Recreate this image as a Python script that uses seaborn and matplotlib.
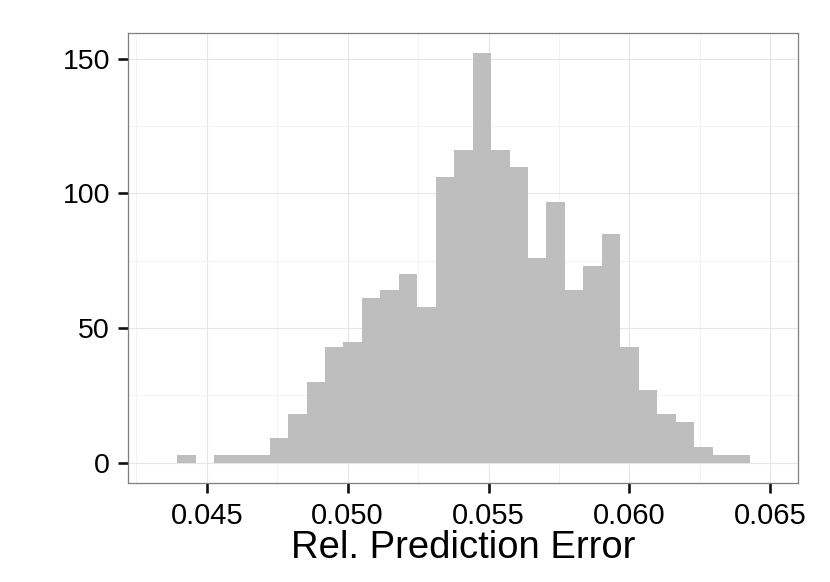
import numpy as np
import pandas as pd
import matplotlib
matplotlib.use("Agg")
import matplotlib.pyplot as plt
import seaborn as sns

# Histogram counts per bin
counts = [3, 0, 3, 3, 3, 9, 18, 30, 43, 45, 61, 64, 70, 58, 106, 116, 152,
          116, 110, 76, 97, 64, 73, 85, 43, 27, 18, 15, 6, 3, 3]
bin_start = 0.043957
bin_width = 0.000655
x_ticks = [0.045, 0.050, 0.055, 0.060, 0.065]
x_tick_labels = ["0.045", "0.050", "0.055", "0.060", "0.065"]
y_ticks = [0, 50, 100, 150]
x_label = "Rel. Prediction Error"

edges = bin_start + bin_width * np.arange(len(counts) + 1)
centers = (edges[:-1] + edges[1:]) / 2
df = pd.DataFrame({"err": centers, "n": counts})

sns.set_theme(style="white")
plt.rcParams["font.family"] = ["Liberation Sans", "DejaVu Sans"]

fig = plt.figure(figsize=(8.3, 5.82), dpi=100)
ax = fig.add_axes([128 / 830, 1 - 482.7 / 582, (797.7 - 128) / 830, (482.7 - 32.7) / 582])

sns.histplot(data=df, x="err", weights="n", bins=[float(e) for e in edges], ax=ax,
             color="#BEBEBE", alpha=1.0, linewidth=0, edgecolor="none")

ax.set_xlim(0.042207, 0.065972)
ax.set_ylim(-7.43, 159.7)

ax.set_xticks(x_ticks)
ax.set_xticklabels(x_tick_labels)
ax.set_yticks(y_ticks)
ax.set_xticks([0.0425, 0.0475, 0.0525, 0.0575, 0.0625], minor=True)
ax.set_yticks([25, 75, 125], minor=True)

ax.set_axisbelow(True)
ax.grid(True, which="major", color="#E6E6E6", linewidth=0.8)
ax.grid(True, which="minor", color="#F3F3F3", linewidth=0.7)

for s in ax.spines.values():
    s.set_color("#7F7F7F")
    s.set_linewidth(0.9)

ax.tick_params(axis="both", which="major", bottom=True, left=True,
               length=7.2, width=1.9, color="#111111",
               labelcolor="black", direction="out")
ax.tick_params(axis="x", which="major", pad=7, labelsize=21)
ax.tick_params(axis="y", which="major", pad=5.8, labelsize=20.5)
ax.tick_params(axis="both", which="minor", length=0)

ax.set_xlabel(x_label, fontsize=27.5, color="black", labelpad=0)
ax.set_ylabel("")

fig.savefig("out.png", dpi=100, facecolor="white")
